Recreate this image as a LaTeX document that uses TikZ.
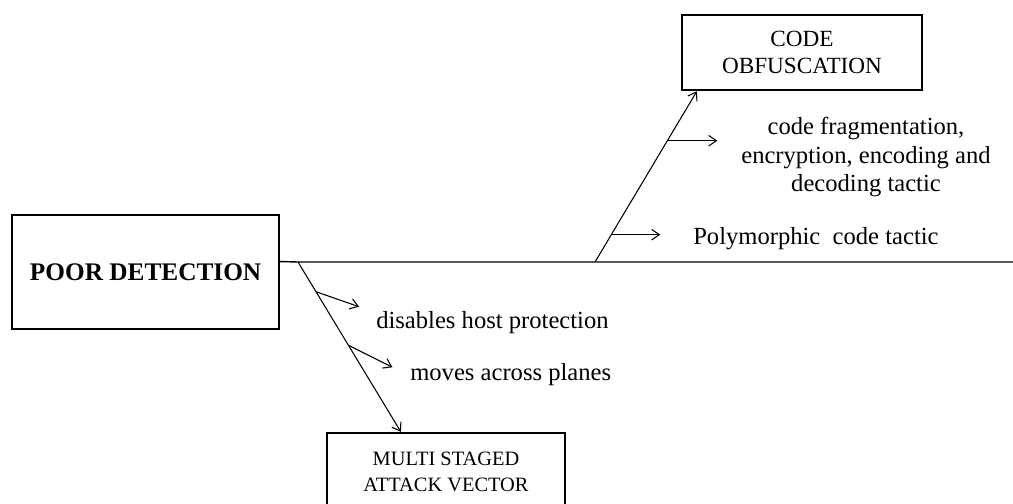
\documentclass[tikz,border=0pt]{standalone}
\usepackage{fontspec}
\setmainfont{Liberation Serif}
\usetikzlibrary{arrows.meta, calc, positioning}

\begin{document}
\begin{tikzpicture}[
  box/.style={rectangle, draw, line width=1.6pt, align=center, inner sep=0pt},
  lbl/.style={anchor=base west, inner sep=0pt,
    font=\fontsize{17.5}{20.5}\selectfont},
  barb/.style={-{Straight Barb[length=5.5pt,width=7.5pt]}, line width=0.75pt},
]
\useasboundingbox (0,0) rectangle (25.325,12.575);
\clip (0,0) rectangle (25.325,12.575);
%% Effect box
\node[box, minimum width=6.675cm, minimum height=2.85cm,
      font=\fontsize{18}{21}\selectfont\bfseries]
  (poor) at (3.64,5.775) {POOR DETECTION};
%% Cause boxes
\node[box, minimum width=6cm, minimum height=1.875cm,
      font=\fontsize{16.5}{19}\selectfont]
  (code) at (20.05,11.26) {CODE\\OBFUSCATION};
\node[box, minimum width=5.95cm, minimum height=1.95cm,
      font=\fontsize{14.5}{18}\selectfont]
  (multi) at (11.15,0.775) {MULTI STAGED\\ATTACK VECTOR};
%% Spine
\coordinate (spinestart) at ($(poor.north east)!0.41!(poor.south east)$);
\coordinate (lowfoot)    at (7.45,6.025);
\coordinate (upfoot)     at (14.875,6.025);
\coordinate (spinend)    at (25.325,6.025);
\draw[line width=1pt] (spinestart) -- (lowfoot) -- (upfoot) -- (spinend);
%% Bones
\coordinate (uptip)   at ($(code.south west)+(0.4,0)$);
\coordinate (lowtip)  at ($(multi.north west)+(1.875,0)$);
\draw[barb] (upfoot) -- (uptip);
\draw[barb] (lowfoot) -- (lowtip);
%% Sub-causes
\draw[barb] ($(upfoot)!0.71!(uptip)$)   -- ++(1.25,0);
\draw[barb] ($(upfoot)!0.16!(uptip)$)   -- ++(1.225,0);
\draw[barb] ($(lowfoot)!0.175!(lowtip)$) -- ++(1.075,-0.375);
\draw[barb] ($(lowfoot)!0.49!(lowtip)$)  -- ++(1.1,-0.55);
%% Labels
\node[lbl] (host)   at (9.4,4.375)   {disables host protection};
\node[lbl] (planes) at (10.25,3.075) {moves across planes};
\node[lbl] (poly)   at (17.325,6.475) {Polymorphic~~code tactic};
\node[lbl, anchor=center, align=center]
  (frag) at (21.65,8.65)
  {code fragmentation,\\encryption, encoding and\\decoding tactic};
\end{tikzpicture}
\end{document}
